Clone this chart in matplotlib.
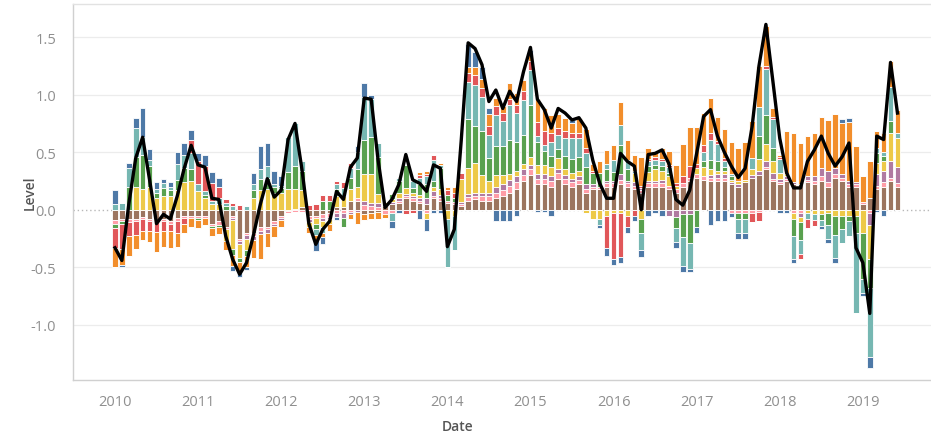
import numpy as np
import matplotlib
matplotlib.use("Agg")
import matplotlib.pyplot as plt

# monthly contributions, Jan 2010 .. Jun 2019 (stack order bottom -> top)
brown = [-0.09, -0.08, -0.08, -0.08, -0.06, -0.08, -0.08, -0.08, -0.1, -0.07, -0.05, -0.05,
         -0.05, -0.05, -0.12, -0.1, -0.15, -0.05, -0.25, -0.2, -0.2, -0.15, -0.15, -0.1,
         -0.05, -0.01, 0.01, 0.02, -0.05, -0.05, -0.04, -0.03, 0.02, 0.02, 0.08, 0.08,
         -0.04, -0.03, -0.02, 0.03, 0.05, 0.06, 0.1, 0.08, 0.06, 0.05, 0.1, 0.08,
         0.06, 0.05, 0.03, 0.08, 0.09, 0.08, 0.08, 0.1, 0.12, 0.15, 0.18, 0.25,
         0.3, 0.22, 0.22, 0.2, 0.27, 0.22, 0.2, 0.22, 0.15, 0.18, 0.18, 0.2,
         0.2, 0.22, 0.2, 0.18, 0.15, 0.2, 0.2, 0.2, 0.18, 0.15, 0.2, 0.25,
         0.28, 0.26, 0.25, 0.25, 0.25, 0.22, 0.2, 0.24, 0.28, 0.3, 0.35, 0.25,
         0.22, 0.25, 0.22, 0.22, 0.24, 0.22, 0.25, 0.2, 0.28, 0.25, 0.2, 0.2,
         0.05, 0.1, 0.18, 0.2, 0.25, 0.2]
pink = [-0.03, -0.02, -0.03, -0.02, -0.02, -0.02, -0.03, -0.02, -0.02, -0.03, -0.02, -0.02,
        -0.02, -0.02, -0.02, -0.03, -0.02, -0.02, -0.02, -0.02, -0.03, -0.03, -0.02, -0.02,
        -0.02, -0.02, -0.02, -0.02, -0.03, -0.02, -0.03, -0.03, -0.03, -0.03, -0.02, 0.02,
        0.04, 0.03, 0.02, -0.04, -0.03, 0.02, 0.02, 0.02, 0.02, -0.03, 0.02, 0.02,
        0.02, 0.02, 0.02, 0.03, 0.03, 0.04, 0.04, 0.05, 0.05, 0.06, 0.06, 0.05,
        0.05, 0.05, 0.05, 0.05, 0.05, 0.05, 0.04, 0.04, 0.03, 0.02, 0.02, 0.03,
        0.03, 0.04, 0.03, 0.03, 0.02, 0.03, 0.03, 0.03, 0.03, 0.03, 0.03, 0.03,
        0.03, 0.03, 0.03, 0.03, 0.03, -0.03, -0.03, -0.03, -0.03, -0.02, 0.02, 0.02,
        0.02, 0.02, -0.03, -0.03, 0.02, 0.03, 0.04, 0.04, 0.03, 0.03, 0.02, 0.02,
        0.02, -0.03, 0.03, 0.04, 0.03, 0.03]
purple = [0, 0, 0, 0, 0, 0, 0, 0, 0, 0, 0, 0,
          0, 0, 0, 0, 0, -0.02, -0.03, -0.03, -0.03, -0.03, -0.03, -0.02,
          -0.02, 0, 0, 0, -0.03, 0, -0.03, -0.02, -0.03, -0.04, -0.02, -0.02,
          0.04, 0.03, 0.04, 0.02, 0.02, 0.02, 0.02, 0.02, 0.02, 0.05, 0.04, 0.03,
          0, 0, 0.02, 0.03, 0.03, 0.03, 0.03, 0.05, 0.05, 0.05, 0.05, 0.05,
          0.04, 0.04, 0.04, 0.04, 0.03, 0.03, 0.03, 0.03, 0.04, 0.02, 0, 0.02,
          0.02, 0.05, 0.02, 0.03, 0.02, 0.02, 0.02, 0.03, -0.05, -0.06, -0.04, -0.04,
          0, 0, 0.02, 0.03, 0.03, 0.02, 0.02, 0, 0.02, 0.04, 0.05, 0.05,
          0.03, 0.02, 0.02, -0.03, 0.03, 0.04, 0.07, 0.1, 0.05, 0.03, 0.03, 0.02,
          0, -0.1, 0.1, 0.1, 0.14, 0.14]
yellow = [0, 0, 0, 0.2, 0.18, 0.2, 0.1, 0.12, 0.12, 0.17, 0.24, 0.25,
          0.16, 0.1, 0.05, 0.05, -0.1, -0.25, -0.12, -0.1, 0.1, 0.17, 0.18, 0.15,
          0.15, 0.18, 0.17, 0.15, -0.04, -0.05, -0.05, -0.04, 0.1, 0.1, 0.1, 0.1,
          0.23, 0.25, 0.08, 0.02, 0.02, 0.05, 0.05, 0.03, 0.03, -0.05, 0.04, 0.05,
          -0.08, -0.05, 0.2, 0.22, 0.26, 0.15, 0.1, 0.1, 0.08, 0.05, 0.05, 0.05,
          0.07, 0.08, 0.08, 0.08, 0.1, 0.05, 0.05, 0.05, -0.03, -0.08, -0.08, -0.05,
          -0.03, -0.03, -0.05, 0.08, -0.08, 0.08, 0.1, 0.08, 0.08, 0.03, 0, 0,
          0.05, 0.08, 0.05, 0.03, 0.03, 0.02, 0.03, 0.02, 0.05, 0.1, 0.15, 0.1,
          0.05, 0.02, -0.05, -0.05, -0.03, -0.04, -0.04, -0.03, -0.05, -0.05, -0.05, -0.05,
          -0.2, -0.3, 0.1, 0.08, 0.25, 0.25]
green = [-0.04, -0.02, 0.2, 0.26, 0.3, 0.18, 0.05, 0.07, 0.05, 0.09, 0.12, 0.1,
         -0.02, 0.03, -0.02, -0.02, 0.03, -0.05, -0.03, -0.05, 0.07, 0.1, 0.1, 0.05,
         0.04, 0.15, 0.2, 0.17, 0, -0.05, 0.08, 0.08, 0.06, -0.08, 0.1, 0.15,
         0.3, 0.32, 0.32, 0, 0.05, 0.1, 0.2, 0.04, 0.09, 0.12, 0.05, 0.18,
         0.05, 0.03, 0, 0.43, 0.32, 0.38, 0.2, 0.25, 0.25, 0.3, 0.25, 0.25,
         0.45, 0.2, 0.12, 0.1, 0.08, 0.12, 0.12, 0.12, 0.15, 0.1, 0.12, 0.1,
         0.08, 0.25, 0.1, 0, -0.12, 0.05, 0.04, 0.04, 0.03, -0.1, -0.2, -0.25,
         -0.15, 0.05, 0.08, 0.08, 0.03, 0.03, -0.05, -0.05, 0, 0.2, 0.25, 0.12,
         0, 0, -0.15, -0.15, 0, 0, -0.05, -0.1, -0.17, -0.12, -0.05, -0.15,
         -0.4, -0.25, 0.08, 0.05, 0.1, 0]
teal = [0.05, 0.06, 0.16, 0.25, 0.15, 0.05, 0.03, 0.04, 0.03, 0.14, 0.12, 0.14,
        0.06, 0.03, 0.03, 0.05, 0.03, 0.03, 0, 0.03, 0.05, 0.08, 0.1, 0.02,
        0.02, 0.3, 0.37, 0.08, 0, -0.05, -0.05, 0, 0.04, 0.07, 0.08, 0.15,
        0.37, 0.33, 0.12, 0, -0.07, 0.03, 0, 0.06, 0.06, 0.07, 0.18, 0.03,
        -0.42, -0.3, 0, 0.32, 0.35, 0.3, 0.2, 0.27, 0.22, 0.3, 0.25, 0.3,
        0.3, 0.05, 0.05, 0.12, 0.12, 0.15, 0.18, 0.16, 0.12, 0, -0.05, 0.05,
        0.1, 0.18, 0.08, 0.02, -0.15, 0.04, 0.04, 0.04, 0.05, -0.12, -0.25, -0.22,
        0, 0.08, 0.18, 0.15, 0.05, 0.02, -0.12, -0.12, 0.1, 0.25, 0.4, 0.25,
        0.12, 0, -0.2, -0.12, -0.05, -0.05, -0.05, -0.12, -0.2, -0.12, -0.13, -0.7,
        -0.12, -0.6, 0.05, 0.03, 0.3, 0.05]
red = [-0.17, -0.22, -0.12, -0.12, -0.1, -0.08, -0.08, -0.08, -0.06, -0.1, -0.05, 0.12,
       0.2, 0.22, 0.15, 0.1, 0.03, 0.03, 0.04, 0, 0, 0, 0, 0,
       0, 0, 0, 0, 0.04, 0.05, 0.05, 0.05, 0.03, 0.05, 0.05, 0,
       0, 0, 0, 0, 0, 0, -0.04, -0.03, 0.02, 0.02, 0.05, 0,
       0.04, 0.05, 0.05, 0.08, 0.09, 0.08, 0.08, 0.08, 0.07, 0.05, 0.07, 0.08,
       0.08, 0.12, 0.12, 0.08, 0.06, 0.06, 0.05, 0.05, 0.05, 0.02, 0, -0.28,
       -0.4, -0.38, -0.1, -0.05, 0.02, 0.02, 0.03, 0.02, 0.02, 0.02, 0.06, 0.1,
       0.04, 0.06, 0.06, 0.03, 0.03, 0, 0, 0, -0.08, -0.08, 0.03, 0.02,
       0.02, 0, 0, -0.05, -0.08, -0.05, 0, 0, 0, 0, 0, 0,
       0, 0, 0, 0, 0, 0]
orange = [-0.17, -0.14, -0.17, -0.12, -0.08, -0.1, -0.18, -0.14, -0.15, -0.12, -0.08, -0.08,
          -0.07, -0.06, -0.07, -0.06, -0.08, -0.1, -0.08, -0.1, -0.16, -0.22, -0.12, -0.1,
          -0.06, 0, 0, 0, -0.05, -0.04, -0.04, -0.06, 0, 0, -0.04, -0.1,
          -0.05, -0.05, -0.06, -0.03, 0, 0, 0, 0, 0.03, 0.03, 0, 0.02,
          0.03, 0.05, 0, 0.05, 0.07, 0.08, 0.1, 0.07, 0.06, 0.14, 0.1, 0.1,
          0.05, 0.2, 0.2, 0.15, 0.12, 0.12, 0.08, 0.13, 0.16, 0.06, 0.1, 0.12,
          0.13, 0.2, 0.18, 0.14, 0.25, 0.1, 0.05, 0.1, 0.12, 0.16, 0.28, 0.34,
          0.32, 0.28, 0.3, 0.21, 0.25, 0.28, 0.29, 0.33, 0.32, 0.36, 0.35, 0.07,
          0.02, 0.37, 0.43, 0.36, 0.35, 0.38, 0.45, 0.44, 0.47, 0.44, 0.51, 0.31,
          0.22, 0.32, 0.14, 0.17, 0.22, 0.2]
blue = [0.12, -0.02, 0.05, 0.09, 0.25, 0.1, 0.06, 0.04, 0.04, 0.1, 0.1, 0.08,
        0.07, 0.1, 0.1, 0.08, 0, -0.04, -0.05, -0.02, 0.1, 0.2, 0.2, 0.12,
        0.08, 0, 0, 0, 0, -0.1, -0.06, 0, -0.03, 0, 0, 0.05,
        0.12, 0.04, 0, 0, -0.06, -0.03, 0, 0, -0.08, -0.1, -0.03, -0.03,
        0, 0, 0, 0.2, 0.13, 0.1, 0.05, -0.1, -0.1, -0.1, -0.05, 0,
        0.05, -0.02, -0.02, -0.05, 0, 0, 0.03, 0, 0, 0, -0.03, -0.07,
        -0.05, -0.05, -0.05, -0.05, -0.06, -0.05, -0.03, -0.05, 0, -0.05, -0.05, -0.03,
        -0.05, 0, -0.13, -0.1, -0.1, -0.03, -0.05, -0.05, 0, 0, 0, 0,
        -0.03, -0.03, -0.03, 0, 0, 0, -0.03, -0.04, -0.04, 0.04, 0.04, 0,
        -0.03, -0.09, -0.02, -0.05, 0, 0]

# black line (Level)
level = [-0.33, -0.44, 0.05, 0.45, 0.63, 0.26, -0.12, -0.04, -0.08, 0.12, 0.36, 0.56,
         0.39, 0.37, 0.1, 0.09, -0.23, -0.43, -0.56, -0.46, -0.22, 0.05, 0.27, 0.11,
         0.17, 0.61, 0.75, 0.35, -0.12, -0.3, -0.17, -0.1, 0.16, 0.09, 0.37, 0.45,
         0.97, 0.96, 0.43, 0.02, 0.09, 0.22, 0.48, 0.26, 0.23, 0.16, 0.39, 0.36,
         -0.32, -0.17, 0.6, 1.45, 1.4, 1.26, 0.94, 1.04, 0.88, 1.03, 0.94, 1.2,
         1.41, 0.96, 0.87, 0.71, 0.88, 0.84, 0.78, 0.8, 0.71, 0.43, 0.23, 0.1,
         0.1, 0.49, 0.42, 0.38, 0.0, 0.48, 0.49, 0.52, 0.4, 0.09, 0.04, 0.17,
         0.49, 0.81, 0.87, 0.64, 0.5, 0.38, 0.28, 0.36, 0.72, 1.25, 1.61, 1.12,
         0.62, 0.32, 0.19, 0.19, 0.42, 0.52, 0.64, 0.49, 0.38, 0.46, 0.58, -0.33,
         -0.46, -0.9, 0.64, 0.61, 1.28, 0.84]

years = list(range(2010, 2020))

components = [
    (brown, "#9c755f"),
    (pink, "#ff9da7"),
    (purple, "#b07aa1"),
    (yellow, "#edc948"),
    (green, "#59a14f"),
    (teal, "#76b7b2"),
    (red, "#e15759"),
    (orange, "#f28e2b"),
    (blue, "#4e79a7"),
]

plt.rcParams['font.family'] = ['Open Sans', 'DejaVu Sans']

n = len(level)
x = 2010 + np.arange(n) / 12.0

fig = plt.figure(figsize=(9.31, 4.39), dpi=100)
ax = fig.add_axes([73 / 931, 1 - 381 / 439, 1 - 73 / 931, (381 - 5) / 439])

pos_base = np.zeros(n)
neg_base = np.zeros(n)
for vals, col in components:
    v = np.array(vals, dtype=float)
    p = np.where(v > 0, v, 0)
    q = np.where(v < 0, v, 0)
    ax.bar(x, p, width=0.8 / 12, bottom=pos_base, color=col,
           edgecolor="white", linewidth=0.6, zorder=2)
    ax.bar(x, q, width=0.8 / 12, bottom=neg_base, color=col,
           edgecolor="white", linewidth=0.6, zorder=2)
    pos_base += p
    neg_base += q

ax.plot(x, level, color="black", lw=2.4, zorder=4, solid_joinstyle="round")

ax.set_xlim(2009.495, 2019.82)
ax.set_ylim(-1.478, 1.787)

ax.set_yticks([-1.0, -0.5, 0.0, 0.5, 1.0, 1.5])
ax.set_yticklabels(["-1.0", "-0.5", "0.0", "0.5", "1.0", "1.5"])
ax.set_xticks(years)
ax.set_xticklabels([str(y) for y in years])

for yv in [-1.0, -0.5, 0.5, 1.0, 1.5]:
    ax.axhline(yv, color="#ececec", lw=0.9, zorder=0)
ax.axhline(0, color="#b8b8b8", lw=1.0, ls=(0, (1, 2)), zorder=1)

ax.tick_params(axis="both", length=0, colors="#8f8f8f", labelsize=10.5)
ax.tick_params(axis="y", pad=12)
ax.tick_params(axis="x", pad=10)

ax.spines["right"].set_visible(False)
ax.spines["top"].set_color("#e2e2e2")
ax.spines["left"].set_color("#d0d0d0")
ax.spines["bottom"].set_color("#d0d0d0")
for side in ["top", "left", "bottom"]:
    ax.spines[side].set_linewidth(1.0)

ax.set_ylabel("Level", color="#555555", fontsize=10, fontweight="semibold")
ax.set_xlabel("Date", color="#555555", fontsize=10, fontweight="semibold")
ax.yaxis.set_label_coords(-36 / 858, 0.5)
ax.xaxis.set_label_coords((458 - 73) / 858, -39 / 376)

fig.savefig("out.png", dpi=100)
